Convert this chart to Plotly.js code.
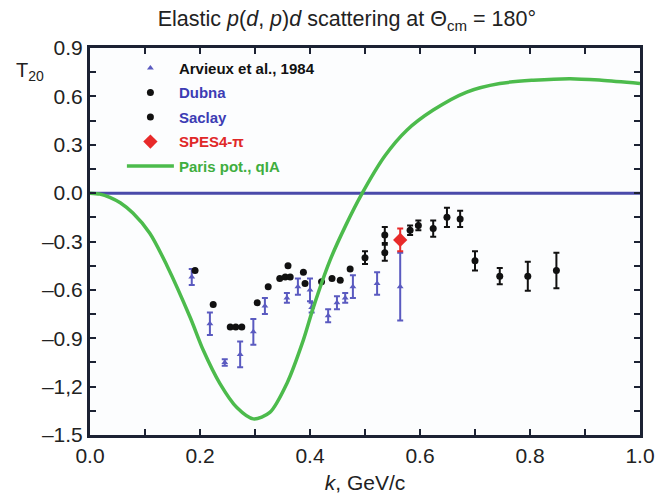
<!DOCTYPE html>
<html><head><meta charset="utf-8">
<script src="https://cdn.plot.ly/plotly-3.0.1.min.js"></script>
<style>html,body{margin:0;padding:0;background:#fff}#chart{width:657px;height:495px}</style>
</head><body><div id="chart"></div>
<script>
// Paris potential, qIA curve
const parisK = [0, 0.018, 0.036, 0.055, 0.078, 0.109, 0.14, 0.182, 0.206, 0.236, 0.267, 0.297, 0.327, 0.358, 0.388, 0.406, 0.436, 0.465, 0.495, 0.536, 0.576, 0.624, 0.685, 0.745, 0.806, 0.873, 0.93, 1.0];
const parisT = [0, -0.006, -0.026, -0.06, -0.124, -0.25, -0.45, -0.77, -0.975, -1.18, -1.33, -1.40, -1.36, -1.18, -0.91, -0.71, -0.42, -0.2, 0.0, 0.23, 0.39, 0.515, 0.627, 0.68, 0.70, 0.71, 0.70, 0.68];

// Arvieux et al., 1984
const arvK = [0.185, 0.218, 0.245, 0.273, 0.297, 0.318, 0.358, 0.378, 0.40, 0.403, 0.433, 0.449, 0.464, 0.478, 0.522, 0.564];
const arvT = [-0.52, -0.81, -1.05, -1.0, -0.86, -0.70, -0.65, -0.58, -0.6, -0.71, -0.76, -0.68, -0.65, -0.58, -0.56, -0.58];
const arvE = [0.05, 0.07, 0.02, 0.08, 0.08, 0.05, 0.03, 0.05, 0.07, 0.03, 0.04, 0.04, 0.03, 0.07, 0.07, 0.21];

// Dubna
const dubK = [0.50, 0.536, 0.536, 0.582, 0.597, 0.624, 0.649, 0.673, 0.70, 0.745, 0.796, 0.848];
const dubT = [-0.40, -0.26, -0.37, -0.23, -0.20, -0.22, -0.15, -0.16, -0.42, -0.515, -0.515, -0.48];
const dubE = [0.04, 0.05, 0.05, 0.03, 0.03, 0.05, 0.06, 0.05, 0.06, 0.05, 0.09, 0.11];

// Saclay
const sacK = [0.191, 0.224, 0.255, 0.265, 0.276, 0.304, 0.324, 0.345, 0.355, 0.36, 0.364, 0.388, 0.391, 0.421, 0.44, 0.455, 0.473];
const sacT = [-0.48, -0.69, -0.83, -0.83, -0.83, -0.68, -0.58, -0.53, -0.52, -0.45, -0.52, -0.49, -0.56, -0.55, -0.53, -0.54, -0.47];

// SPES4-pi
const spesK = [0.564];
const spesT = [-0.29];
const spesE = [0.07];

// zero line
const zeroK = [0, 1];
const zeroT = [0, 0];

const xTickVals = [0,0.1,0.2,0.3,0.4,0.5,0.6,0.7,0.8,0.9,1.0];
const xTickText = ['0.0','','0.2','','0.4','','0.6','','0.8','','1.0'];
const yTickVals = [0.9,0.75,0.6,0.45,0.3,0.15,0,-0.15,-0.3,-0.45,-0.6,-0.75,-0.9,-1.05,-1.2,-1.35,-1.5];
const yTickText = ['0.9','','0.6','','0.3','','0.0','','\u20130.3','','\u20130.6','','\u20130.9','','\u20131,2','','\u20131.5'];

const FRAME = '#1c2233';

const traces = [
  {x: zeroK, y: zeroT, mode: 'lines', line: {color: '#4a4aaa', width: 3}, showlegend: false, hoverinfo: 'skip'},
  {x: arvK, y: arvT, mode: 'markers', name: '<b><span style="color:#111">Arvieux et al., 1984</span></b>', legendgroup: 'a',
   marker: {symbol: 'triangle-up', size: 6, color: '#5a5ac0'},
   error_y: {type: 'data', array: arvE, color: '#5a5ac0', thickness: 2, width: 3}},
  {x: dubK, y: dubT, mode: 'markers', name: '<b><span style="color:#3c3cb4">Dubna</span></b>', legendgroup: 'b',
   marker: {symbol: 'circle', size: 7, color: '#111'},
   error_y: {type: 'data', array: dubE, color: '#111', thickness: 2, width: 3}},
  {x: sacK, y: sacT, mode: 'markers', name: '<b><span style="color:#3c3cb4">Saclay</span></b>', legendgroup: 'c',
   marker: {symbol: 'circle', size: 7, color: '#111'}},
  {x: spesK, y: spesT, mode: 'markers', name: '<b><span style="color:#e02828">SPES4-\u03c0</span></b>', legendgroup: 'd',
   marker: {symbol: 'diamond', size: 11, color: '#e82a2a'},
   error_y: {type: 'data', array: spesE, color: '#e82a2a', thickness: 2, width: 3}},
  {x: parisK, y: parisT, mode: 'lines', name: '<b><span style="color:#3fae3f">Paris pot., qIA</span></b>', legendgroup: 'e',
   line: {color: '#4cbb4c', width: 3.5, shape: 'spline', smoothing: 0.8}}
];

const layout = {
  width: 657, height: 495,
  margin: {l: 90, r: 17, t: 48, b: 60},
  paper_bgcolor: '#ffffff', plot_bgcolor: '#fcfdfe',
  font: {family: 'Liberation Sans, Arial, sans-serif', color: '#222', size: 20},
  title: {text: 'Elastic <i>p</i>(<i>d</i>, <i>p</i>)<i>d</i> scattering at \u0398<sub>cm</sub> = 180\u00b0',
          x: 0.528, xref: 'container', xanchor: 'center', y: 0.962, yref: 'container', yanchor: 'middle',
          font: {size: 21.5, color: '#222'}},
  xaxis: {range: [0, 1], tickvals: xTickVals, ticktext: xTickText, ticks: 'inside', ticklen: 6, tickwidth: 2,
          tickcolor: FRAME, showline: true, linecolor: FRAME, linewidth: 3, mirror: 'allticks',
          showgrid: false, zeroline: false, tickfont: {size: 21, color: '#222'},
          title: {text: '<i>k</i>, GeV/c', font: {size: 21, color: '#222'}, standoff: 10}},
  yaxis: {range: [-1.5, 0.9], tickvals: yTickVals, ticktext: yTickText, ticks: 'inside', ticklen: 6, tickwidth: 2,
          tickcolor: FRAME, showline: true, linecolor: FRAME, linewidth: 3, mirror: 'allticks',
          showgrid: false, zeroline: false, tickfont: {size: 21, color: '#222'}},
  showlegend: true,
  legend: {x: 0.058, y: 0.99, xanchor: 'left', yanchor: 'top', bgcolor: 'rgba(0,0,0,0)',
           font: {size: 15, family: 'Liberation Sans, Arial, sans-serif'}, tracegroupgap: 2, itemwidth: 47},
  annotations: [
    {text: 'T<sub>20</sub>', xref: 'paper', yref: 'paper', x: -0.109, y: 0.94, xanchor: 'center', yanchor: 'middle',
     showarrow: false, font: {size: 20, color: '#222'}}
  ]
};

Plotly.newPlot('chart', traces, layout, {displayModeBar: false, staticPlot: true});
</script></body></html>
